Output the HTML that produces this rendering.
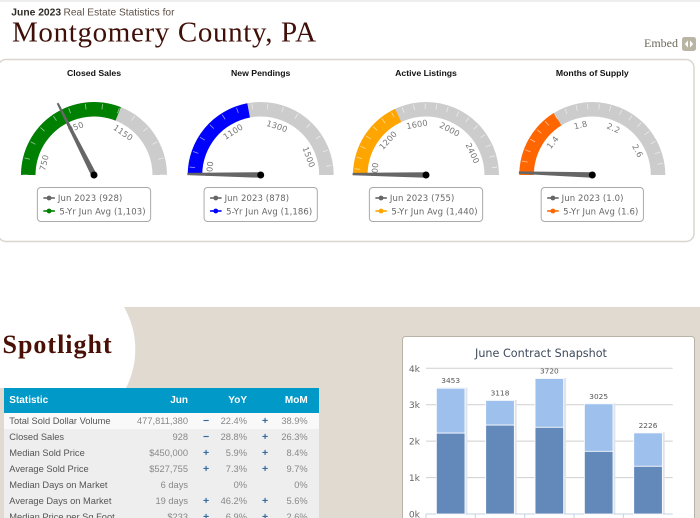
<!DOCTYPE html>
<html lang="en">
<head>
<meta charset="utf-8">
<title>Montgomery County, PA - June 2023 Real Estate Statistics</title>
<style>
  html, body { margin: 0; padding: 0; background: #fff; }
  #page { position: relative; width: 700px; height: 518px; overflow: hidden; background: #fff; font-family: "Liberation Sans", sans-serif; }
  .layer { position: absolute; left: 0; top: 0; }
  #stats-table { position: absolute; left: 4px; top: 388px; width: 315px; border-collapse: collapse; table-layout: fixed; font-size: 9.3px; color: #888; background: #eeeeef; }
  #stats-table th { background: #0099c8; color: #fff; font-size: 10px; font-weight: bold; height: 24.5px; padding: 0; text-align: right; }
  #stats-table th.label, #stats-table td.label { text-align: left; padding-left: 5.3px; white-space: nowrap; }
  #stats-table td { height: 16px; padding: 0; text-align: right; white-space: nowrap; line-height: 16px; }
  #stats-table td.label { color: #555; }
  #stats-table td.sign { text-align: left; padding-left: 15px; color: #336b9e; font-weight: bold; font-size: 10.5px; }
  #stats-table tr.first td { height: 16.6px; background: #f9f9f9; }
</style>
</head>
<body>
<div id="page">
  <svg class="layer" width="700" height="518" viewBox="0 0 700 518">
    <line x1="0" y1="1" x2="700" y2="1" stroke="#dedede" stroke-width="1"/>
    <text x="11.3" y="15.5" font-family="'Liberation Sans', sans-serif" font-size="10.3" font-weight="bold" fill="#2e2a26">June 2023</text>
    <text x="63.5" y="15.5" font-family="'Liberation Sans', sans-serif" font-size="10.2" fill="#5c5048">Real Estate Statistics for</text>
    <text x="12" y="41.7" font-family="'Liberation Serif', serif" font-size="29" letter-spacing="0.65" fill="#3f0f08">Montgomery County, PA</text>
    <text x="644" y="47" font-family="'Liberation Serif', serif" font-size="12" fill="#6e6a5e">Embed</text>
    <rect x="682" y="37" width="14" height="14" rx="2.5" fill="#b9b5a5"/>
    <path d="M688 40.5 L684.8 44 L688 47.5 Z M690 40.5 L693.2 44 L690 47.5 Z" fill="#fff"/>
    <rect x="-2" y="59.5" width="696" height="182" rx="8" fill="#fff" stroke="#d9d6cd" stroke-width="1.5"/>
    <rect x="0" y="307" width="700" height="211" fill="#e0dad1"/>
    <path d="M0 307 L124 307 A85 85 0 0 1 126 388 L0 388 Z" fill="#fff"/>
    <text x="2.5" y="353" font-family="'Liberation Serif', serif" font-size="26" font-weight="bold" letter-spacing="1" fill="#4a1006">Spotlight</text>
    <rect x="402.5" y="336.5" width="292" height="190" rx="3" fill="#fff" stroke="#b9b2a6" stroke-width="1"/>
  </svg>

  <svg id="gauges" class="layer" width="700" height="245" viewBox="0 0 700 245"></svg>

  <table id="stats-table">
    <colgroup><col style="width:120px"><col style="width:64px"><col style="width:26px"><col style="width:33px"><col style="width:25px"><col style="width:35.7px"><col style="width:11.3px"></colgroup>
    <thead>
      <tr><th class="label">Statistic</th><th>Jun</th><th></th><th>YoY</th><th></th><th>MoM</th><th></th></tr>
    </thead>
    <tbody>
      <tr class="first"><td class="label">Total Sold Dollar Volume</td><td>477,811,380</td><td class="sign">−</td><td>22.4%</td><td class="sign">+</td><td>38.9%</td><td></td></tr>
      <tr><td class="label">Closed Sales</td><td>928</td><td class="sign">−</td><td>28.8%</td><td class="sign">+</td><td>26.3%</td><td></td></tr>
      <tr><td class="label">Median Sold Price</td><td>$450,000</td><td class="sign">+</td><td>5.9%</td><td class="sign">+</td><td>8.4%</td><td></td></tr>
      <tr><td class="label">Average Sold Price</td><td>$527,755</td><td class="sign">+</td><td>7.3%</td><td class="sign">+</td><td>9.7%</td><td></td></tr>
      <tr><td class="label">Median Days on Market</td><td>6 days</td><td class="sign"></td><td>0%</td><td class="sign"></td><td>0%</td><td></td></tr>
      <tr><td class="label">Average Days on Market</td><td>19 days</td><td class="sign">+</td><td>46.2%</td><td class="sign">+</td><td>5.6%</td><td></td></tr>
      <tr><td class="label">Median Price per Sq Foot</td><td>$233</td><td class="sign">+</td><td>6.9%</td><td class="sign">+</td><td>2.6%</td><td></td></tr>
    </tbody>
  </table>

  <svg id="snapshot" class="layer" width="700" height="518" viewBox="0 0 700 518"></svg>
</div>

<script>
/* ---------- gauge data ---------- */
const gaugeTitles = ["Closed Sales", "New Pendings", "Active Listings", "Months of Supply"];
const gaugeValues = [928, 878, 755, 1.0];
const gaugeAverages = [1103, 1186, 1440, 1.6];
const gaugeMins = [700, 875, 747, 0.98];
const gaugeMaxes = [1350, 1580, 2667, 2.9];
const gaugeLabels = [
  [750, 950, 1150],
  [900, 1100, 1300, 1500],
  [800, 1200, 1600, 2000, 2400],
  [1.4, 1.8, 2.2, 2.6]
];
const gaugeTickSteps = [50, 50, 100, 0.1];
const periodLabel = "Jun 2023";
const averageLabel = "5-Yr Jun Avg";

/* ---------- bar chart data ---------- */
const chartTitle = "June Contract Snapshot";
const yTicks = [0, 1000, 2000, 3000, 4000];
const yTickLabels = ["0k", "1k", "2k", "3k", "4k"];
const barTotals = [3453, 3118, 3720, 3025, 2226];
const barLowerValues = [2220, 2440, 2380, 1720, 1310];

const SVG_NS = "http://www.w3.org/2000/svg";
function make(parent, tag, attrs, text) {
  const el = document.createElementNS(SVG_NS, tag);
  for (const key in attrs) el.setAttribute(key, attrs[key]);
  if (text !== undefined) el.textContent = text;
  parent.appendChild(el);
  return el;
}

/* ---------- gauges ---------- */
const gaugeCenters = [94, 260.7, 426, 592.3];
const gaugeColors = ["#008000", "#0000ff", "#ffa500", "#ff6600"];
const CY = 175, R_OUT = 73, R_IN = 58.5, R_LABEL = 51.5, R_NEEDLE = 80.5;
const sansFont = "'DejaVu Sans', sans-serif";
const gaugeSvg = document.getElementById("gauges");

function legendFmt(v, g) {
  return gaugeMaxes[g] < 10 ? v.toFixed(1) : v.toLocaleString("en-US");
}
function tickFmt(v, g) {
  return gaugeMaxes[g] < 10 ? v.toFixed(1) : String(v);
}
function angleFor(v, g) {
  return (v - gaugeMins[g]) / (gaugeMaxes[g] - gaugeMins[g]) * Math.PI;
}
function polar(cx, r, a) {
  return [cx - r * Math.cos(a), CY - r * Math.sin(a)];
}
function bandPath(cx, a0, a1) {
  const p0 = polar(cx, R_OUT, a0), p1 = polar(cx, R_OUT, a1);
  const p2 = polar(cx, R_IN, a1), p3 = polar(cx, R_IN, a0);
  return "M" + p0 + " A" + R_OUT + " " + R_OUT + " 0 0 1 " + p1 +
         " L" + p2 + " A" + R_IN + " " + R_IN + " 0 0 0 " + p3 + " Z";
}

const gaugeDefs = make(gaugeSvg, "defs", {});
const gaugeClip = make(gaugeDefs, "clipPath", { id: "gauge-label-clip" });
make(gaugeClip, "rect", { x: 0, y: 0, width: 700, height: 176 });

gaugeTitles.forEach(function (title, g) {
  const cx = gaugeCenters[g];
  const group = make(gaugeSvg, "g", {});
  
  

  const needleClip = make(gaugeDefs, "clipPath", { id: "gauge-needle-clip-" + g });
  make(needleClip, "rect", { x: cx - R_OUT - 0.4, y: 60, width: 2 * R_OUT + 0.8, height: 130 });

  const titleEl = make(group, "text", { x: cx, y: 76, "text-anchor": "middle", "font-family": "'Liberation Sans', sans-serif", "font-size": 8.7, "font-weight": "bold", fill: "#111" }, title);
  
  

  const track = make(group, "path", { d: bandPath(cx, 0, Math.PI), fill: "#cccccc" });
  
  

  const band = make(group, "path", { d: bandPath(cx, 0, angleFor(gaugeAverages[g], g)), fill: gaugeColors[g] });
  
  

  const step = gaugeTickSteps[g];
  const firstTick = Math.ceil(gaugeMins[g] / step);
  const lastTick = Math.floor(gaugeMaxes[g] / step);
  for (let k = firstTick; k <= lastTick; k++) {
    const a = angleFor(k * step, g);
    const p0 = polar(cx, R_OUT - 1.5, a), p1 = polar(cx, R_OUT - 7, a);
    const tick = make(group, "line", { x1: p0[0], y1: p0[1], x2: p1[0], y2: p1[1], stroke: "#fff", "stroke-width": 0.8, "stroke-opacity": 0.6 });
    
    
  }

  gaugeLabels[g].forEach(function (v) {
    const a = angleFor(v, g);
    const p = polar(cx, R_LABEL, a);
    const rot = a * 180 / Math.PI - 90;
    const clipWrap = make(group, "g", { "clip-path": "url(#gauge-label-clip)" });
    const label = make(clipWrap, "text", { x: p[0], y: p[1] + 3, "text-anchor": "middle", "font-family": sansFont, "font-size": 8.2, "letter-spacing": 0.2, fill: "#777", transform: "rotate(" + rot + " " + p[0] + " " + p[1] + ")" }, tickFmt(v, g));
    
    
  });

  const na = angleFor(gaugeValues[g], g);
  const tip = polar(cx, R_NEEDLE, na);
  const ux = Math.sin(na), uy = Math.cos(na);
  const baseHalf = 2.8, tipHalf = 1;
  const needleWrap = make(group, "g", { "clip-path": "url(#gauge-needle-clip-" + g + ")" });
  const needle = make(needleWrap, "polygon", {
    points: [
      [cx + ux * baseHalf, CY - uy * baseHalf], [cx - ux * baseHalf, CY + uy * baseHalf],
      [tip[0] - ux * tipHalf, tip[1] + uy * tipHalf],
      [tip[0] + ux * tipHalf, tip[1] - uy * tipHalf]
    ].join(" "),
    fill: "#666"
  });
  
  

  const pivot = make(group, "circle", { cx: cx, cy: CY, r: 3.5, fill: "#000" });
  
  

  const box = make(group, "rect", { x: 0, y: 187.5, width: 10, height: 34, rx: 3.5, fill: "#fff", stroke: "#aaa", "stroke-width": 1 });
  
  

  const row1 = make(group, "text", { x: 0, y: 201, "font-family": sansFont, "font-size": 8.5, "letter-spacing": 0.1, fill: "#666" }, periodLabel + " (" + legendFmt(gaugeValues[g], g) + ")");
  
  

  const row2 = make(group, "text", { x: 0, y: 214.5, "font-family": sansFont, "font-size": 8.5, "letter-spacing": 0.1, fill: "#666" }, averageLabel + " (" + legendFmt(gaugeAverages[g], g) + ")");
  
  

  const boxW = row2.getComputedTextLength() + 27;
  const left = cx - boxW / 2;
  box.setAttribute("x", left);
  box.setAttribute("width", boxW);
  row1.setAttribute("x", left + 20.5);
  row2.setAttribute("x", left + 22);

  [[198, "#666"], [211, gaugeColors[g]]].forEach(function (entry) {
    const line = make(group, "line", { x1: left + 6, x2: left + 17.5, y1: entry[0], y2: entry[0], stroke: entry[1], "stroke-width": 1.6 });
    
    
    const dot = make(group, "circle", { cx: left + 11.7, cy: entry[0], r: 2.4, fill: entry[1] });
    
    
  });
});

/* ---------- contract snapshot bars ---------- */
const chartSvg = document.getElementById("snapshot");
const PLOT_LEFT = 426, PLOT_RIGHT = 672.7, PLOT_BOTTOM = 514, PLOT_TOP = 368.3, Y_MAX = 4000;
const categoryWidth = (PLOT_RIGHT - PLOT_LEFT) / barTotals.length;
const BAR_WIDTH = 28.6;
function yScale(v) { return PLOT_BOTTOM - v / Y_MAX * (PLOT_BOTTOM - PLOT_TOP); }
function xCenter(i) { return PLOT_LEFT + (i + 0.5) * categoryWidth; }

const titleEl = make(chartSvg, "text", { x: 541, y: 357, "text-anchor": "middle", "font-family": sansFont, "font-size": 11.2, fill: "#3e4a5c" }, chartTitle);



yTicks.forEach(function (v, i) {
  const y = yScale(v);
  const grid = make(chartSvg, "line", { x1: PLOT_LEFT, x2: PLOT_RIGHT, y1: y, y2: y, stroke: v === 0 ? "#c4d2e2" : "#cfcfcf", "stroke-width": 1 });
  
  
  const label = make(chartSvg, "text", { x: 420, y: y + 3.5, "text-anchor": "end", "font-family": sansFont, "font-size": 9.2, fill: "#666" }, yTickLabels[i]);
  
  
});

barTotals.forEach(function (total, i) {
  const tickX = PLOT_LEFT + i * categoryWidth;
  const xTick = make(chartSvg, "line", { x1: tickX, x2: tickX, y1: PLOT_BOTTOM, y2: PLOT_BOTTOM + 5, stroke: "#c4d2e2", "stroke-width": 1 });
  
  

  const lower = barLowerValues[i];
  const left = xCenter(i) - BAR_WIDTH / 2;
  const yTotal = yScale(total), yLower = yScale(lower), yZero = yScale(0);

  const shadow = make(chartSvg, "rect", { x: left + 1, y: yTotal - 0.5, width: BAR_WIDTH + 1.4, height: yZero - yTotal, fill: "#dfe3ea" });
  
  

  const upperBar = make(chartSvg, "rect", { x: left, y: yTotal, width: BAR_WIDTH, height: yLower - yTotal, fill: "#9dc0ec", stroke: "#fff", "stroke-width": 0.8 });
  
  

  const lowerBar = make(chartSvg, "rect", { x: left, y: yLower, width: BAR_WIDTH, height: yZero - yLower, fill: "#6389bb", stroke: "#fff", "stroke-width": 0.8 });
  
  

  const valueLabel = make(chartSvg, "text", { x: xCenter(i), y: yTotal - 5, "text-anchor": "middle", "font-family": sansFont, "font-size": 7.4, fill: "#555" }, String(total));
  
  
});
</script>
</body>
</html>
